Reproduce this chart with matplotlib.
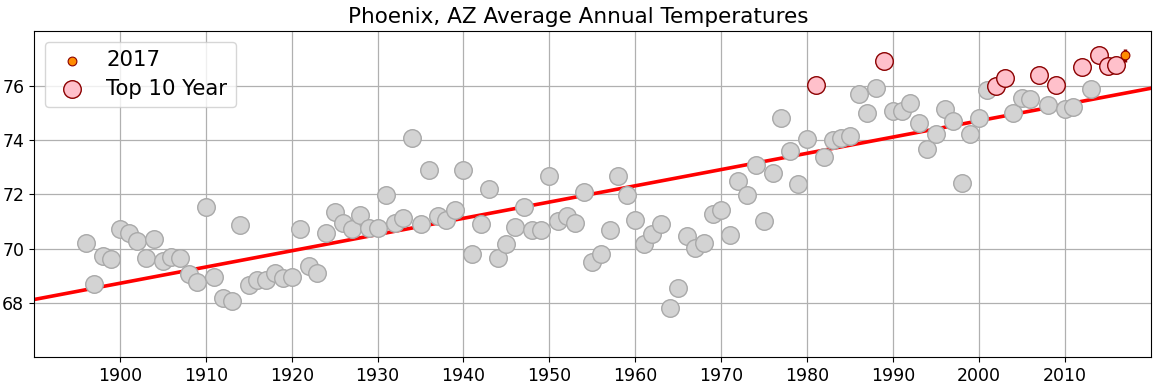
import numpy as np
import matplotlib
matplotlib.use('Agg')
import matplotlib.pyplot as plt

# ── data ───────────────────────────────────────────────────────────────────────
years = list(range(1896, 2017))
temps = [
    70.22, 68.71, 69.72, 69.63, 70.74, 70.59, 70.27, 69.67, 70.37, 69.53,   # 1896-1905
    69.69, 69.67, 69.05, 68.79, 71.53, 68.95, 68.18, 68.06, 70.86, 68.65,   # 1906-1915
    68.86, 68.86, 69.12, 68.92, 68.95, 70.71, 69.35, 69.12, 70.58, 71.34,   # 1916-1925
    70.96, 70.71, 71.23, 70.75, 70.77, 71.97, 70.95, 71.13, 74.08, 70.92,   # 1926-1935
    72.91, 71.19, 71.04, 71.41, 72.89, 69.79, 70.92, 72.18, 69.64, 70.16,   # 1936-1945
    70.81, 71.52, 70.70, 70.70, 72.67, 71.00, 71.20, 70.93, 72.10, 69.49,   # 1946-1955
    69.79, 70.67, 72.67, 71.97, 71.04, 70.18, 70.55, 70.92, 67.82, 68.56,   # 1956-1965
    70.48, 70.04, 70.22, 71.29, 71.41, 70.49, 72.48, 71.97, 73.06, 71.01,   # 1966-1975
    72.79, 74.82, 73.59, 72.37, 74.05, 76.04, 73.39, 74.01, 74.08, 74.16,   # 1976-1985
    75.68, 75.00, 75.93, 76.92, 75.05, 75.05, 75.35, 74.64, 73.68, 74.23,   # 1986-1995
    75.13, 74.68, 72.42, 74.23, 74.79, 75.83, 76.00, 76.29, 75.00, 75.56,   # 1996-2005
    75.49, 76.38, 75.30, 76.01, 75.15, 75.23, 76.67, 75.89, 77.12, 76.71,   # 2006-2015
    76.75,                                                                   # 2016
]
year_2017 = 2017
temp_2017 = 77.12
err_2017 = 0.24

years = np.array(years)
temps = np.array(temps)

# top 10 warmest years (excluding 2017, which is shown separately)
top10 = np.argsort(temps)[-10:]
is_top = np.zeros(len(years), dtype=bool)
is_top[top10] = True

# ── plot ───────────────────────────────────────────────────────────────────────
fig = plt.figure(figsize=(11.61, 3.86), dpi=100)
ax = fig.add_axes([0.0293, 0.0743, 0.9618, 0.8447])

ax.set_axisbelow(True)
ax.grid(True, color='#b0b0b0', linewidth=0.9)

ax.scatter(years[~is_top], temps[~is_top], s=160, c='lightgray',
           edgecolors='darkgray', linewidths=1, zorder=3)
ax.scatter(years[is_top], temps[is_top], s=160, c='pink',
           edgecolors='darkred', linewidths=1, zorder=3, label='Top 10 Year')

# linear trend over all years incl. 2017
all_x = np.append(years, year_2017)
all_y = np.append(temps, temp_2017)
slope, icpt = np.polyfit(all_x, all_y, 1)
xl = np.array([1890, 2020])
ax.plot(xl, slope * xl + icpt, color='red', linewidth=2.6, zorder=2)

ax.errorbar([year_2017], [temp_2017], yerr=[err_2017], fmt='none',
            ecolor='darkred', elinewidth=2.5, zorder=4)
ax.scatter([year_2017], [temp_2017], s=40, c='darkorange',
           edgecolors='darkred', linewidths=0.8, zorder=5, label='2017')

ax.set_xlim(1890, 2020)
ax.set_ylim(66, 78)
ax.set_xticks(range(1900, 2011, 10))
ax.set_yticks(range(68, 77, 2))
ax.tick_params(labelsize=12.5)
ax.set_title('Phoenix, AZ Average Annual Temperatures', fontsize=15.5, x=0.4875)

h, l = ax.get_legend_handles_labels()
ax.legend(h[::-1], l[::-1], loc='upper left', fontsize=15.3,
          handletextpad=0.7, labelspacing=0.4, handlelength=1.8)

fig.savefig('out.png', dpi=100)
